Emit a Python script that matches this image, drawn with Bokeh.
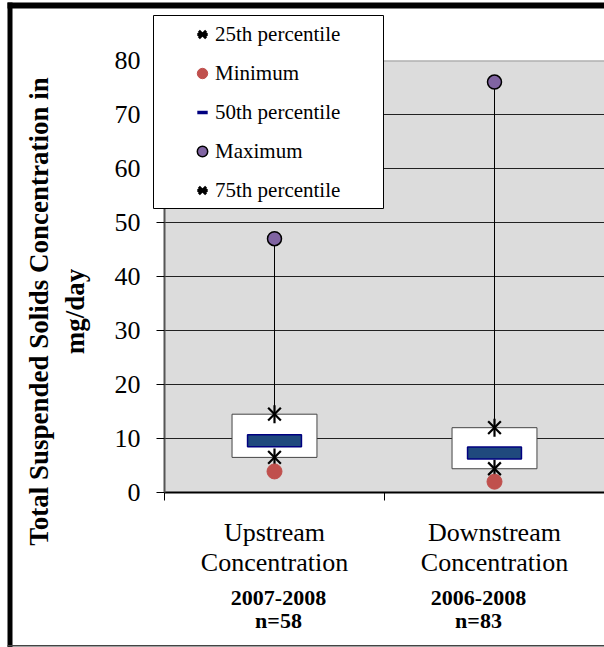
import numpy as np
from bokeh.plotting import figure
from bokeh.models import (Range1d, FixedTicker, Label, Legend, LegendItem, Span,
                          ColumnDataSource)
from bokeh.embed import file_html
from bokeh.resources import INLINE

# ---------------- data ----------------
categories = ["Upstream\nConcentration", "Downstream\nConcentration"]
periods = ["2007-2008", "2006-2008"]
sample_sizes = ["n=58", "n=83"]
minimum = [3.9, 2.0]
p25 = [6.5, 4.4]
median = [9.6, 7.3]
p75 = [14.5, 12.0]
maximum = [47.0, 76.0]
y_ticks = [0, 10, 20, 30, 40, 50, 60, 70, 80]
y_title = "Total Suspended Solids Concentration in\nmg/day"
legend_labels = ["25th percentile", "Minimum", "50th percentile", "Maximum",
                 "75th percentile"]

# ---------------- layout constants (pixels) ----------------
W, H = 604, 647
FL, FT, FR, FB = 164, 60, 604, 492
n = len(categories)
xpos = [i + 0.5 for i in range(n)]
YMAX = y_ticks[-1]
SERIF = "Liberation Serif"

src = ColumnDataSource(dict(x=xpos, minimum=minimum, p25=p25, median=median,
                            p75=p75, maximum=maximum))

# ================= main chart =================
p = figure(width=W, height=H, x_range=Range1d(0, n), y_range=Range1d(0, YMAX),
           output_backend="svg", toolbar_location=None,
           min_border_left=FL, min_border_right=W - FR, min_border_top=FT,
           min_border_bottom=H - FB,
           background_fill_color="#DCDCDC", border_fill_color="white",
           outline_line_color=None)

p.xaxis.ticker = FixedTicker(ticks=xpos, minor_ticks=list(range(n + 1)))
p.xaxis.major_label_overrides = {x: c for x, c in zip(xpos, categories)}
p.xaxis.major_tick_out = 0
p.xaxis.major_tick_in = 0
p.xaxis.minor_tick_out = 8
p.xaxis.minor_tick_in = 0
p.xaxis.minor_tick_line_color = "black"
p.xaxis.axis_line_color = "black"
p.xaxis.axis_line_width = 2
p.xaxis.major_label_text_font = SERIF
p.xaxis.major_label_text_font_size = "26px"
p.xaxis.major_label_text_color = "black"
p.xaxis.major_label_text_line_height = 1.05
p.xaxis.major_label_standoff = 17

p.yaxis.ticker = FixedTicker(ticks=y_ticks)
p.yaxis.major_tick_out = 8
p.yaxis.major_tick_in = 0
p.yaxis.minor_tick_line_color = None
p.yaxis.axis_line_color = "#555555"
p.yaxis.axis_line_width = 2
p.yaxis.major_tick_line_color = "black"
p.yaxis.major_label_text_font = SERIF
p.yaxis.major_label_text_font_size = "26px"
p.yaxis.major_label_text_color = "black"
p.yaxis.major_label_standoff = 16

p.xgrid.visible = False
p.ygrid.grid_line_color = "#222222"
p.ygrid.grid_line_width = 1
p.add_layout(Span(location=YMAX, dimension="width", line_color="#999999", line_width=2))

# high-low line and interquartile box
p.segment(x0="x", y0="minimum", x1="x", y1="maximum", source=src,
          line_color="black", line_width=1)
p.vbar(x="x", width=0.386, bottom="p25", top="p75", source=src,
       fill_color="white", line_color="#444444", line_width=1)

STAR = dict(size=18, line_color="black", line_width=2.2)
VBAR_STAR = dict(marker="dash", angle=np.pi / 2, **STAR)
MIN = dict(marker="circle", size=15, fill_color="#C0504D", line_color="#C0504D")
MAX = dict(marker="circle", size=14, fill_color="#8064A2", line_color="black",
           line_width=1.5)
LEG_STAR = dict(size=18, line_color="black", line_width=3)
MED_LEGEND = dict(marker="dash", line_color="#000080", line_width=3.5)

p.scatter("x", "p25", source=src, marker="x", **STAR)
p.scatter("x", "p25", source=src, **VBAR_STAR)
p.scatter("x", "minimum", source=src, **MIN)
p.rect(x="x", y="median", width=0.245, height=12, height_units="screen", source=src,
       fill_color="#1F497D", line_color="#000080", line_width=1.5)
p.scatter("x", "maximum", source=src, **MAX)
p.scatter("x", "p75", source=src, marker="x", **STAR)
p.scatter("x", "p75", source=src, **VBAR_STAR)

# ================= overlay (legend, titles, chart frame) =================
o = figure(width=W, height=H, x_range=Range1d(0, W), y_range=Range1d(H, 0),
           output_backend="svg", toolbar_location=None,
           x_axis_type=None, y_axis_type=None,
           min_border_left=0, min_border_right=0, min_border_top=0,
           min_border_bottom=0,
           background_fill_alpha=0, border_fill_alpha=0, outline_line_color=None,
           styles={"position": "absolute", "left": "0px", "top": "0px"})
o.grid.visible = False
# legend-only renderers are mapped onto a range that keeps them out of sight
o.extra_x_ranges = {"proxy": Range1d(-100, -99)}
o.extra_y_ranges = {"proxy": Range1d(-100, -99)}

# outer chart border
o.quad(left=[7, 7, 7], right=[W, 12, W], top=[2, 2, 644.5], bottom=[8, H, 646],
       fill_color=["black", "black", "#444444"], line_color=None)

# legend box
o.quad(left=[153], right=[383], top=[15], bottom=[208], fill_color="white",
       line_color="black", line_width=1)

PX = dict(source=src, x_range_name="proxy", y_range_name="proxy")
l25 = [o.scatter("x", "p25", marker="x", **LEG_STAR, **PX),
       o.scatter("x", "p25", marker="dash", angle=np.pi / 2, **LEG_STAR, **PX)]
lmin = [o.scatter("x", "minimum", **MIN, **PX)]
lmed = [o.scatter("x", "median", **MED_LEGEND, **PX)]
lmax = [o.scatter("x", "maximum", **MAX, **PX)]
l75 = [o.scatter("x", "p75", marker="x", **LEG_STAR, **PX),
       o.scatter("x", "p75", marker="dash", angle=np.pi / 2, **LEG_STAR, **PX)]

legend = Legend(items=[LegendItem(label=lab, renderers=r) for lab, r in
                       zip(legend_labels, [l25, lmin, lmed, lmax, l75])],
                location=(189, H - 21 - 182), orientation="vertical",
                glyph_width=26, glyph_height=26, label_height=26, spacing=13,
                label_standoff=0, padding=0, margin=0,
                border_line_color=None, background_fill_alpha=0,
                label_text_font=SERIF, label_text_font_size="21px",
                label_text_color="black")
o.add_layout(legend)

# y title
o.add_layout(Label(x=56, y=311, text=y_title, angle=np.pi / 2,
                   text_align="center", text_baseline="middle",
                   text_font=SERIF, text_font_style="bold",
                   text_font_size="27px", text_line_height=1.2,
                   text_color="black"))

# period and sample-size labels under the categories
for x, per, ns, off in zip(xpos, periods, sample_sizes, [4, -16]):
    cx = FL + x * (FR - FL) / n + off
    for txt, py in ((per, 597), (ns, 620)):
        o.add_layout(Label(x=cx, y=py, text=txt,
                           text_align="center", text_baseline="middle",
                           text_font=SERIF, text_font_style="bold",
                           text_font_size="22px", text_color="black"))

open("out.html", "w").write(file_html([p, o], INLINE))
